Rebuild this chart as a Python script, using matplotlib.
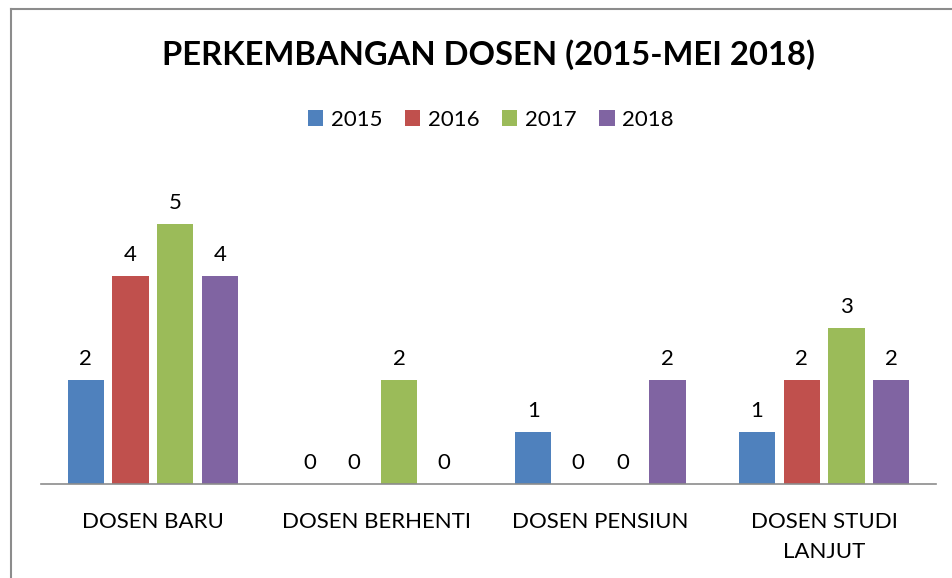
import numpy as np
import matplotlib.pyplot as plt
from matplotlib.lines import Line2D

categories = ["DOSEN BARU", "DOSEN BERHENTI", "DOSEN PENSIUN", "DOSEN STUDI\nLANJUT"]
years = ["2015", "2016", "2017", "2018"]
v2015 = [2, 0, 1, 1]
v2016 = [4, 0, 0, 2]
v2017 = [5, 2, 0, 3]
v2018 = [4, 0, 2, 2]
colors = ["#4F81BD", "#C0504D", "#9BBB59", "#8064A2"]

plt.rcParams['font.family'] = ['Lato', 'DejaVu Sans']

fig = plt.figure(figsize=(9.53, 5.78), dpi=100)
W, H = 953, 578

# chart border (right/bottom edges are cut off in the reference)
fig.add_artist(Line2D([11 / W, 11 / W], [0, 1 - 9 / H], transform=fig.transFigure,
                      color="#8c8c8c", linewidth=1.5))
fig.add_artist(Line2D([11 / W, 1], [1 - 9 / H, 1 - 9 / H], transform=fig.transFigure,
                      color="#8c8c8c", linewidth=1.5))

ax = fig.add_axes([41 / W, (H - 484) / H, (936 - 41) / W, (484 - 172) / H])
ax.set_xlim(-0.5, 3.5)
ax.set_ylim(0, 6)

x = np.arange(len(categories))
series = [v2015, v2016, v2017, v2018]
step = 0.2
width = 0.161
for i, (vals, yr, c) in enumerate(zip(series, years, colors)):
    pos = x + (i - 1.5) * step
    ax.bar(pos, vals, width=width, color=c, label=yr, zorder=2)
    for p, v in zip(pos, vals):
        ax.text(p, v + 0.22, str(v), ha="center", va="bottom", fontsize=16)

for s in ["top", "right", "left"]:
    ax.spines[s].set_visible(False)
ax.spines["bottom"].set_color("#8c8c8c")
ax.spines["bottom"].set_linewidth(1.2)
ax.set_yticks([])
ax.set_xticks(x)
ax.set_xticklabels(categories, fontsize=16, linespacing=1.65)
ax.tick_params(axis="x", length=0, pad=20)

fig.text(0.513, 1 - 55 / H, "PERKEMBANGAN DOSEN (2015-MEI 2018)", ha="center", va="center",
         fontsize=23.6, fontweight="bold")

fig.legend(loc="center", bbox_to_anchor=(0.515, 1 - 120 / H), ncol=4, frameon=False,
           fontsize=16, handlelength=0.7, handleheight=0.7, handletextpad=0.35,
           columnspacing=1.0)

fig.savefig("out.png", dpi=100)
